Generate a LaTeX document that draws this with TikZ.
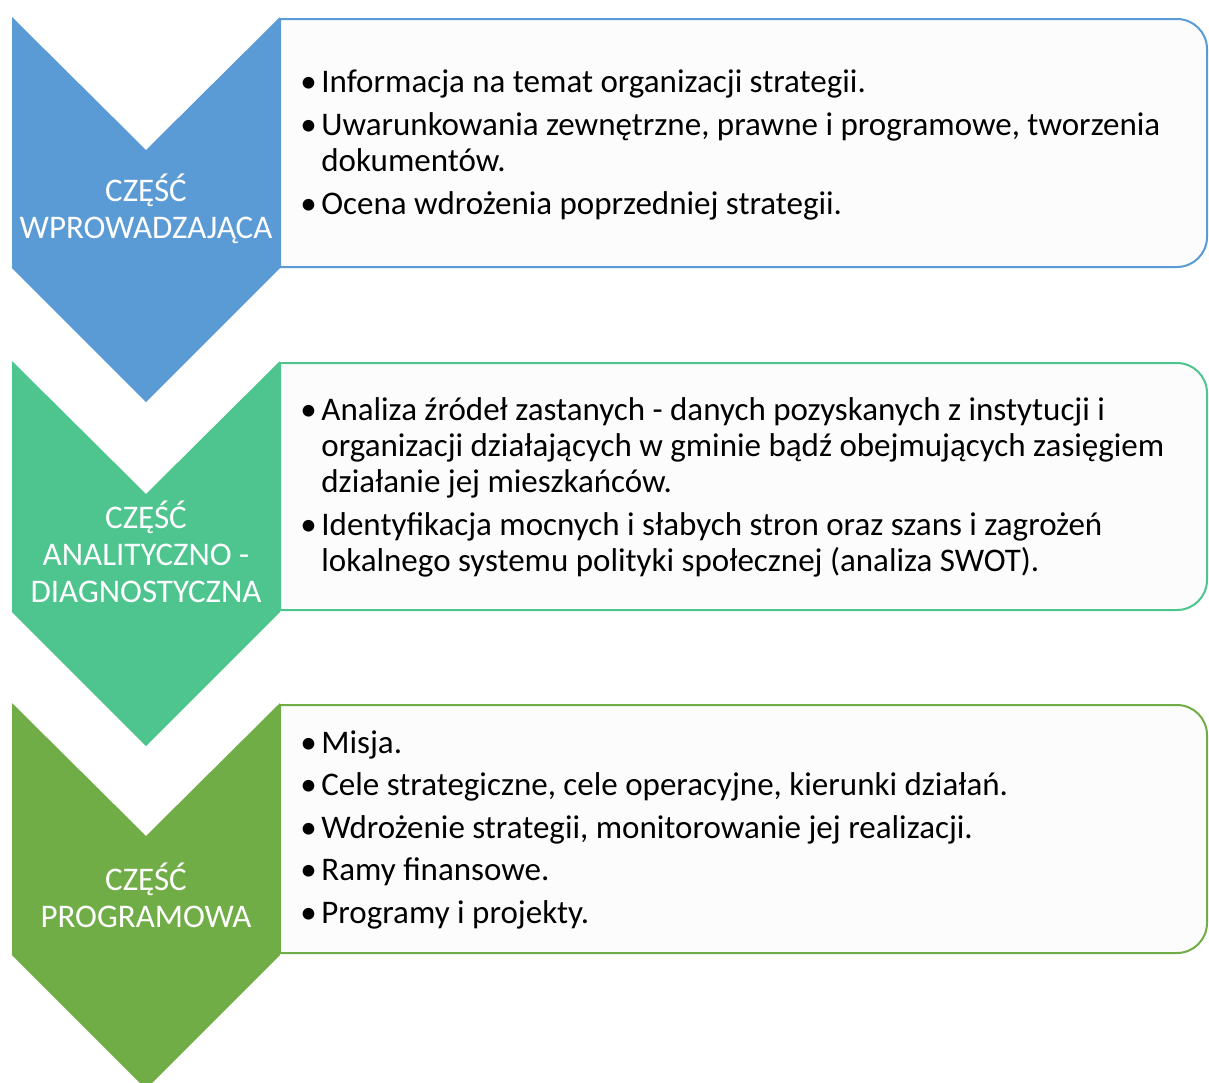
\documentclass[tikz,border=0pt]{standalone}
\usepackage{fontspec}
\setmainfont{Carlito}
\usepackage{tikz}

\definecolor{introBlue}{HTML}{5B9BD5}
\definecolor{analysisGreen}{HTML}{4EC48E}
\definecolor{programGreen}{HTML}{70AD47}
\definecolor{boxFill}{HTML}{FCFCFC}

\begin{document}
\begin{tikzpicture}[x=0.5pt, y=-0.5pt]
\tikzstyle{partLabel} =
[
	text		= white,							% colour of the label
	font		= \fontsize{16.5}{18.5}\selectfont,	% used font
	align		= center,							% centred lines
	inner sep	= 0pt								% no extra space
]
\tikzstyle{partText} =
[
	anchor		= base west,						% last baseline at the point
	align		= left,								% left aligned lines
	font		= \fontsize{16.5}{18}\selectfont,	% used font
	inner sep	= 0pt								% no extra space
]
\tikzstyle{partBox} =
[
	line width	= 1pt,								% thickness of the border
	fill		= boxFill							% filling colour
]
\useasboundingbox (0,0) rectangle (1209,1082);
\clip (0,0) rectangle (1209,1082);
% part 1
\draw [partBox, draw = introBlue] (280,19) -- (1177,19) arc[start angle=90, end angle=0, radius=15pt] -- (1207,237) arc[start angle=0, end angle=-90, radius=15pt] -- (280,267) -- cycle;
\fill [introBlue] (12,17) -- (146,150) -- (280,17) -- (280,268) -- (146,402) -- (12,268) -- cycle;
\node (introLabel) [partLabel] at (146,209) {CZĘŚĆ\\WPROWADZAJĄCA};
\node (introText) [partText] at (300,214) {\makebox[10.5pt][l]{•}Informacja na temat organizacji strategii.\\[3.5pt]
	\makebox[10.5pt][l]{•}Uwarunkowania zewnętrzne, prawne i programowe, tworzenia\\
	\hspace*{10.5pt}dokumentów.\\[3.5pt]
	\makebox[10.5pt][l]{•}Ocena wdrożenia poprzedniej strategii.};
% part 2
\draw [partBox, draw = analysisGreen] (280,363) -- (1177,363) arc[start angle=90, end angle=0, radius=15pt] -- (1207,580) arc[start angle=0, end angle=-90, radius=15pt] -- (280,610) -- cycle;
\fill [analysisGreen] (12,361) -- (146,494) -- (280,361) -- (280,612) -- (146,746) -- (12,612) -- cycle;
\node (analysisLabel) [partLabel] at (146,552) {CZĘŚĆ\\ANALITYCZNO -\\DIAGNOSTYCZNA};
\node (analysisText) [partText] at (300,571) {\makebox[10.5pt][l]{•}Analiza źródeł zastanych - danych pozyskanych z instytucji i\\
	\hspace*{10.5pt}organizacji działających w gminie bądź obejmujących zasięgiem\\
	\hspace*{10.5pt}działanie jej mieszkańców.\\[3.5pt]
	\makebox[10.5pt][l]{•}Identyfikacja mocnych i słabych stron oraz szans i zagrożeń\\
	\hspace*{10.5pt}lokalnego systemu polityki społecznej (analiza SWOT).};
% part 3
\draw [partBox, draw = programGreen] (280,705) -- (1177,705) arc[start angle=90, end angle=0, radius=15pt] -- (1207,923) arc[start angle=0, end angle=-90, radius=15pt] -- (280,953) -- cycle;
\fill [programGreen] (12,703) -- (146,836) -- (280,703) -- (280,955) -- (146,1089) -- (12,955) -- cycle;
\node (programLabel) [partLabel] at (146,895) {CZĘŚĆ\\PROGRAMOWA};
\node (programText) [partText] at (300,923) {\makebox[10.5pt][l]{•}Misja.\\[3.25pt]
	\makebox[10.5pt][l]{•}Cele strategiczne, cele operacyjne, kierunki działań.\\[3.25pt]
	\makebox[10.5pt][l]{•}Wdrożenie strategii, monitorowanie jej realizacji.\\[3.25pt]
	\makebox[10.5pt][l]{•}Ramy finansowe.\\[3.25pt]
	\makebox[10.5pt][l]{•}Programy i projekty.};
\end{tikzpicture}
\end{document}
